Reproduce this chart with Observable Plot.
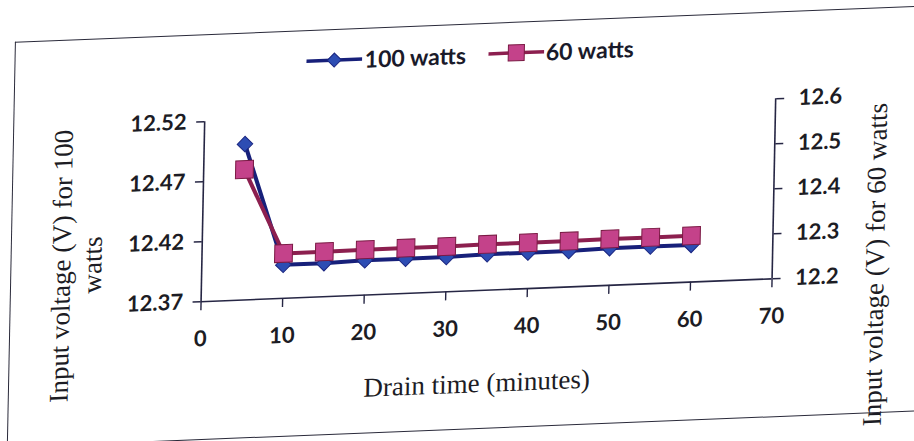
<!DOCTYPE html>
<html><head><meta charset="utf-8">
<script src="https://cdn.jsdelivr.net/npm/d3@7"></script>
<script src="https://cdn.jsdelivr.net/npm/@observablehq/plot@0.6"></script>
<style>
html,body{margin:0;padding:0;background:#fff;overflow:hidden;width:914px;height:441px}
#page{position:relative;width:914px;height:441px;transform:matrix(1,-0.04,-0.02,1,0,0);transform-origin:457px 220px}
#box{position:absolute;left:11px;top:24px;width:960px;height:404px;border:1.6px solid #2a2a3a;border-right:none}
#legend{position:absolute;top:38px;left:0;width:934px;height:34px;display:flex;justify-content:center;align-items:center;gap:22px;font:700 23px Lato, sans-serif;color:#1a1a2a}
#legend .item{display:flex;align-items:center;gap:2px}
#chart{position:absolute;left:0;top:80px}
</style></head><body>
<div id="page"><div id="box"></div><div id="legend"></div><div id="chart"></div></div>
<script>
// Data
const minutes = [5, 10, 15, 20, 25, 30, 35, 40, 45, 50, 55, 60];
const volts100 = [12.500, 12.398, 12.398, 12.399, 12.399, 12.399, 12.400, 12.400, 12.400, 12.401, 12.401, 12.401];
const volts60  = [12.490, 12.300, 12.300, 12.301, 12.301, 12.301, 12.302, 12.302, 12.302, 12.303, 12.303, 12.303];
const seriesNames = ["100 watts", "60 watts"];
const xTicks = [0, 10, 20, 30, 40, 50, 60, 70];
const leftTicks = [12.37, 12.42, 12.47, 12.52];
const rightTicks = [12.2, 12.3, 12.4, 12.5, 12.6];
const xTitle = "Drain time (minutes)";
const leftTitle = "Input voltage (V) for 100\nwatts";
const rightTitle = "Input voltage (V) for 60 watts";

const c100 = {line: "#17207a", fill: "#2d4db3", stroke: "#1a2580"};
const c60 = {line: "#8c1f4f", fill: "#c4428a", stroke: "#7a1a44"};

// map right-axis values onto the left-axis domain
const toLeft = d3.scaleLinear().domain([12.2, 12.6]).range([12.37, 12.52]);
const rows = minutes.map((m, i) => ({m, v100: volts100[i], v60: volts60[i]}));

const axisColor = "#262644";
const serif = "Liberation Serif, serif";
const titleStyle = {fontFamily: serif, fontWeight: 400, fontSize: 27, fill: "#1c1c24", textAnchor: "middle", lineAnchor: "middle"};

const chart = Plot.plot({
  width: 914,
  height: 361,
  marginLeft: 202,
  marginRight: 141,
  marginTop: 31,
  marginBottom: 150,
  x: {domain: [0, 70]},
  y: {domain: [12.37, 12.52]},
  style: {fontFamily: "Lato, sans-serif", fontWeight: 700, fontSize: "22px", color: "#1c1c24", background: "transparent", overflow: "visible"},
  marks: [
    Plot.ruleX([0, 70], {stroke: axisColor, strokeWidth: 1.6}),
    Plot.ruleY([12.37], {stroke: axisColor, strokeWidth: 1.6}),
    Plot.axisX(xTicks, {tickSize: 9, tickPadding: 20, stroke: axisColor, strokeWidth: 1.4, label: null}),
    Plot.axisY(leftTicks, {anchor: "left", tickSize: 8, tickPadding: 10, stroke: axisColor, strokeWidth: 1.4, tickFormat: d3.format(".2f"), label: null}),
    Plot.axisY(rightTicks.map(d => toLeft(d)), {anchor: "right", tickSize: 8, tickPadding: 15, stroke: axisColor, strokeWidth: 1.4, tickFormat: d => d3.format(".1f")(toLeft.invert(d)), label: null}),
    Plot.line(rows, {x: "m", y: "v100", stroke: c100.line, strokeWidth: 4}),
    Plot.dot(rows, {x: "m", y: "v100", symbol: "diamond2", r: 7, fill: c100.fill, stroke: c100.stroke, strokeWidth: 1}),
    Plot.line(rows, {x: "m", y: d => toLeft(d.v60), stroke: c60.line, strokeWidth: 4}),
    Plot.dot(rows, {x: "m", y: d => toLeft(d.v60), symbol: "square", r: 10, fill: c60.fill, stroke: c60.stroke, strokeWidth: 1}),
    Plot.text([xTitle], {frameAnchor: "bottom", dx: -8, dy: 93, ...titleStyle}),
    Plot.text([leftTitle], {frameAnchor: "left", dx: -126, dy: 49, rotate: -90, lineHeight: 1.15, ...titleStyle}),
    Plot.text([rightTitle], {frameAnchor: "right", dx: 103, dy: 80, rotate: -90, ...titleStyle})
  ]
});
document.getElementById("chart").appendChild(chart);

// legend
const legend = d3.select("#legend");
[[seriesNames[0], c100, "diamond"], [seriesNames[1], c60, "square"]].forEach(([name, c, shape]) => {
  const item = legend.append("div").attr("class", "item");
  const svg = item.append("svg").attr("width", 56).attr("height", 26);
  svg.append("line").attr("x1", 0).attr("x2", 56).attr("y1", 13).attr("y2", 13).attr("stroke", c.line).attr("stroke-width", 3.5);
  if (shape === "diamond") {
    svg.append("path").attr("d", "M28,6L35,13L28,20L21,13Z").attr("fill", c.fill).attr("stroke", c.stroke);
  } else {
    svg.append("rect").attr("x", 20).attr("y", 5).attr("width", 16).attr("height", 16).attr("fill", c.fill).attr("stroke", c.stroke);
  }
  item.append("span").text(name);
});
</script>
</body></html>
